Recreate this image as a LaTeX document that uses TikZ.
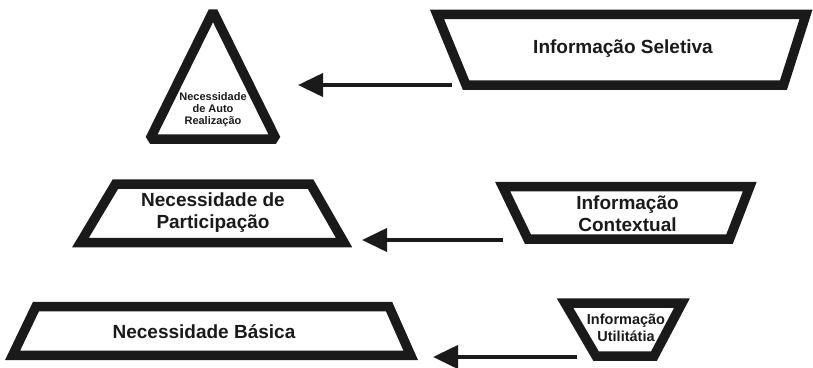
\documentclass[tikz,border=0pt]{standalone}
\usepackage{fontspec}
\setmainfont{Liberation Sans}
\usetikzlibrary{arrows.meta}
\definecolor{ink}{HTML}{1A1A1A}
\tikzset{
  shapeline/.style={draw=ink, line width=9.5pt, line join=miter},
  label/.style={text=ink, font=\bfseries\fontsize{19}{22}\selectfont, align=center, inner sep=0pt},
  smalllabel/.style={text=ink, font=\bfseries\fontsize{11}{12}\selectfont, align=center, inner sep=0pt},
  midlabel/.style={text=ink, font=\bfseries\fontsize{14.5}{17}\selectfont, align=center, inner sep=0pt},
  flow/.style={draw=ink, line width=4pt, -{Triangle[length=25pt,width=23pt]}}
}
\begin{document}
\begin{tikzpicture}[x=1pt,y=-1pt]
\useasboundingbox (0,0) rectangle (813,367);
% left column
\draw[shapeline, line join=bevel] (213,11.5) -- (276,139) -- (150,139) -- cycle;
\node[smalllabel] (auto) at (213,109.5) {Necessidade\\de Auto\\Realização};
\draw[shapeline] (115.5,184) -- (310.5,184) -- (344,242.5) -- (80.5,242.5) -- cycle;
\node[label] (part) at (213,212.5) {Necessidade de\\Participação};
\draw[shapeline] (36,306.5) -- (389,306.5) -- (410.7,355.3) -- (12.6,355.3) -- cycle;
\node[label, anchor=base] (basica) at (204,338.3) {Necessidade Básica};
% right column
\draw[shapeline] (437,14.3) -- (806,14.3) -- (783.5,85) -- (466,85) -- cycle;
\node[label, anchor=base] (sel) at (623,53.3) {Informação Seletiva};
\draw[shapeline] (502.6,186.5) -- (749.8,186.5) -- (729.5,239.2) -- (528,239.2) -- cycle;
\node[label] (ctx) at (627.5,214) {Informação\\Contextual};
\draw[shapeline] (565,303) -- (682,303) -- (654,356) -- (596,356) -- cycle;
\node[midlabel] (util) at (626,328) {Informação\\Utilitátia};
% connectors
\coordinate (selout) at (452,85);
\coordinate (autoin) at (298,85);
\coordinate (ctxout) at (503,240);
\coordinate (partin) at (362,240);
\coordinate (utilout) at (577,357);
\coordinate (basicain) at (433,357);
\draw[flow] (selout) -- (autoin);
\draw[flow] (ctxout) -- (partin);
\draw[flow] (utilout) -- (basicain);
\end{tikzpicture}
\end{document}
